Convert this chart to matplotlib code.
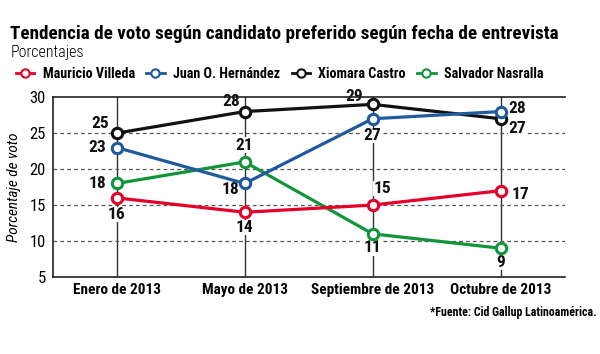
import matplotlib
matplotlib.use('Agg')
import matplotlib.pyplot as plt
from matplotlib.lines import Line2D

plt.rcParams['font.family'] = ['Roboto Condensed', 'DejaVu Sans']

# datos
fechas = ['Enero de 2013', 'Mayo de 2013', 'Septiembre de 2013', 'Octubre de 2013']
villeda = [16, 14, 15, 17]
hernandez = [23, 18, 27, 28]
castro = [25, 28, 29, 27]
nasralla = [18, 21, 11, 9]
nombres = ['Mauricio Villeda', 'Juan O. Hernández', 'Xiomara Castro', 'Salvador Nasralla']
colores = ['#e3002b', '#1f5a9c', '#111111', '#12953a']

# desplazamientos de las etiquetas (puntos)
offs_villeda = [(0, -12), (0, -11), (7, 12), (14, -3)]
offs_hernandez = [(-14, 0), (-10, -4), (0, -12), (12, 2)]
offs_castro = [(-12, 7), (-10, 7), (-13, 6), (12, -7)]
offs_nasralla = [(-14, 0), (0, 12), (0, -10), (0, -10)]

fig = plt.figure(figsize=(6, 3.54), dpi=100)
ax = fig.add_axes([0.088, 0.2175, 0.853, 0.508])

x = range(len(fechas))
for xi in x:
    ax.axvline(xi, color='#333333', lw=1, zorder=1)
for yv in [10, 15, 20, 25]:
    ax.axhline(yv, color='#555555', lw=0.9, ls=(0, (3, 2.5)), zorder=1)

series = [villeda, hernandez, castro, nasralla]
offsets = [offs_villeda, offs_hernandez, offs_castro, offs_nasralla]
capas = [3.2, 3.3, 3.0, 3.1]
for vals, col, offs, z in zip(series, colores, offsets, capas):
    ax.plot(x, vals, color=col, lw=2.3, marker='o', ms=7.5, mfc='white',
            mec=col, mew=2.2, zorder=z)
    for xi, v, o in zip(x, vals, offs):
        ax.annotate(str(v), (xi, v), xytext=o, textcoords='offset points',
                    ha='center', va='center', fontsize=12.5, fontweight='bold',
                    color='#111111', zorder=2,
                    bbox=dict(fc='white', ec='none', pad=0.3))

ax.set_xlim(-0.5, 3.5)
ax.set_ylim(5, 30)
ax.set_yticks([5, 10, 15, 20, 25, 30])
ax.set_xticks(list(x))
ax.set_xticklabels(fechas, fontsize=11, fontweight='bold')
ax.tick_params(axis='both', length=0, pad=4)
ax.tick_params(axis='y', labelsize=12, pad=5)
ax.spines['right'].set_visible(False)
for s in ['top', 'bottom', 'left']:
    ax.spines[s].set_color('#222222')
    ax.spines[s].set_linewidth(1.2)
ax.set_ylabel('Porcentaje de voto', fontsize=11, style='italic', labelpad=6)

fig.text(0.017, 0.905, 'Tendencia de voto según candidato preferido según fecha de entrevista',
         fontsize=13.8, fontweight='bold', va='center')
fig.text(0.017, 0.852, 'Porcentajes', fontsize=11.5, fontweight='light', va='center')

handles = [Line2D([0], [0], color=c, lw=2, marker='o', ms=6, mfc='white', mec=c, mew=1.5)
           for c in colores]
fig.legend(handles, nombres, loc='center left', bbox_to_anchor=(0.005, 0.79), ncol=4,
           frameon=False, handlelength=1.3, handletextpad=0.6, columnspacing=0.8,
           prop={'size': 10.2, 'weight': 'bold'})

fig.text(0.995, 0.118, '*Fuente: Cid Gallup Latinoamérica.', fontsize=8.6,
         fontweight='bold', ha='right', va='center')

fig.savefig('out.png', dpi=100)
